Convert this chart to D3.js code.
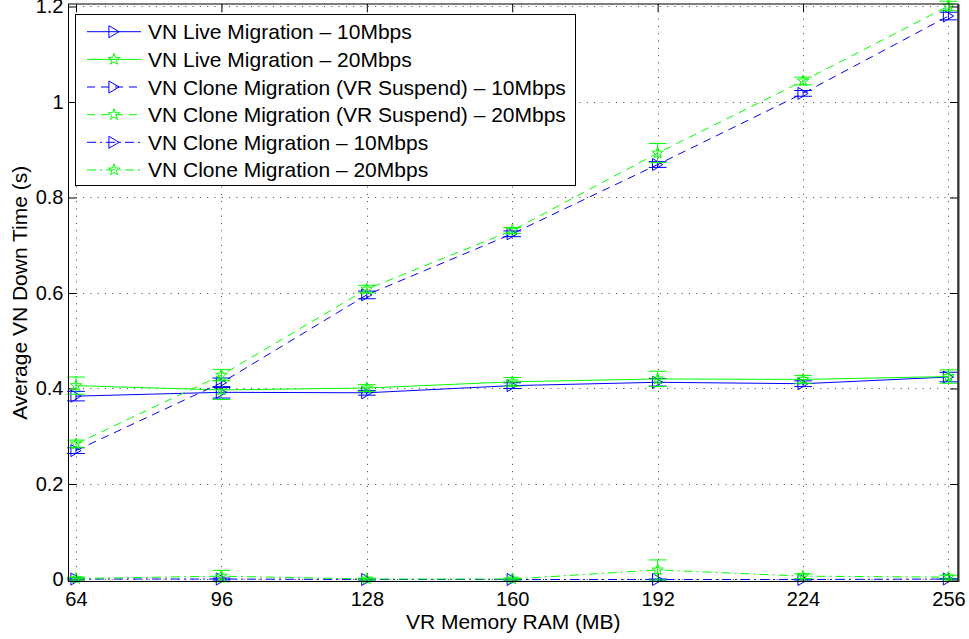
<!DOCTYPE html>
<html>
<head>
<meta charset="utf-8">
<script src="https://cdn.jsdelivr.net/npm/d3@7"></script>
<style>
  html, body { margin: 0; padding: 0; background: #fff; }
  svg { display: block; font-family: "Liberation Sans", Arial, Helvetica, sans-serif; }
</style>
</head>
<body>
<svg id="chart" width="969" height="639"></svg>
<script>
// Memory sizes tested (MB)
const ramSizes = [64, 96, 128, 160, 192, 224, 256];
const xTicks = [64, 96, 128, 160, 192, 224, 256];
const yTicks = [0, 0.2, 0.4, 0.6, 0.8, 1, 1.2];
const yTickLabels = ["0", "0.2", "0.4", "0.6", "0.8", "1", "1.2"];

// Mean down time (s) and error half-widths per scenario
const liveMig10 = [0.384, 0.392, 0.391, 0.406, 0.413, 0.410, 0.424];
const liveMig10Err = [0.010, 0.012, 0.005, 0.006, 0.008, 0.006, 0.010];
const liveMig20 = [0.406, 0.397, 0.401, 0.414, 0.420, 0.419, 0.425];
const liveMig20Err = [0.018, 0.020, 0.007, 0.009, 0.016, 0.008, 0.014];
const cloneSusp10 = [0.270, 0.412, 0.596, 0.724, 0.869, 1.018, 1.180];
const cloneSusp10Err = [0.006, 0.010, 0.008, 0.006, 0.006, 0.006, 0.008];
const cloneSusp20 = [0.284, 0.428, 0.608, 0.731, 0.893, 1.044, 1.201];
const cloneSusp20Err = [0.008, 0.012, 0.008, 0.006, 0.020, 0.008, 0.010];
const clone10 = [0.001, 0.001, 0.000, 0.000, 0.000, 0.000, 0.001];
const clone10Err = [0.002, 0.002, 0.001, 0.001, 0.001, 0.001, 0.001];
const clone20 = [0.002, 0.007, 0.001, 0.001, 0.020, 0.007, 0.005];
const clone20Err = [0.003, 0.012, 0.002, 0.002, 0.021, 0.005, 0.004];

const seriesNames = [
  "VN Live Migration \u2013 10Mbps",
  "VN Live Migration \u2013 20Mbps",
  "VN Clone Migration (VR Suspend) \u2013 10Mbps",
  "VN Clone Migration (VR Suspend) \u2013 20Mbps",
  "VN Clone Migration \u2013 10Mbps",
  "VN Clone Migration \u2013 20Mbps"
];

const BLUE = "#0000ff", GREEN = "#00ff00";
const SOLID = null, DASHED = "8,6", DASHDOT = "9,4,2,4";

const series = [
  { name: seriesNames[0], values: liveMig10, err: liveMig10Err, color: BLUE, dash: SOLID, marker: "tri" },
  { name: seriesNames[1], values: liveMig20, err: liveMig20Err, color: GREEN, dash: SOLID, marker: "star" },
  { name: seriesNames[2], values: cloneSusp10, err: cloneSusp10Err, color: BLUE, dash: DASHED, marker: "tri" },
  { name: seriesNames[3], values: cloneSusp20, err: cloneSusp20Err, color: GREEN, dash: DASHED, marker: "star" },
  { name: seriesNames[4], values: clone10, err: clone10Err, color: BLUE, dash: DASHDOT, marker: "tri" },
  { name: seriesNames[5], values: clone20, err: clone20Err, color: GREEN, dash: DASHDOT, marker: "star" }
];

const svg = d3.select("#chart");
const box = { left: 68.5, right: 958, top: 4, bottom: 581.5 };

const x = d3.scaleLinear().domain([62.35, 258.1]).range([box.left, box.right]);
const y = d3.scaleLinear().domain([-0.0042, 1.2052]).range([box.bottom, box.top]);

const tickFont = 20;
const labelFont = 21;
const FONT = "'Liberation Sans', Arial, Helvetica, sans-serif";

// Grid
const grid = svg.append("g").attr("fill", "none").attr("stroke", "#000")
  .attr("stroke-width", 1).attr("stroke-dasharray", "1,6.3").attr("opacity", 0.75);
xTicks.forEach(t => {
  grid.append("line").attr("x1", Math.round(x(t)) + 0.5).attr("x2", Math.round(x(t)) + 0.5)
    .attr("y1", box.top).attr("y2", box.bottom);
});
yTicks.forEach(t => {
  grid.append("line").attr("y1", Math.round(y(t)) + 0.5).attr("y2", Math.round(y(t)) + 0.5)
    .attr("x1", box.left).attr("x2", box.right);
});

// Axes via d3 axis generators (ticks drawn inward)
const tickLen = 8;
const xAxisB = d3.axisBottom(x).tickValues(xTicks).tickFormat(d3.format("d"))
  .tickSizeInner(-tickLen).tickSizeOuter(0).tickPadding(10);
const xAxisT = d3.axisTop(x).tickValues(xTicks).tickFormat("").tickSizeInner(-tickLen).tickSizeOuter(0);
const yAxisL = d3.axisLeft(y).tickValues(yTicks).tickFormat((d, i) => yTickLabels[i])
  .tickSizeInner(-tickLen).tickSizeOuter(0).tickPadding(5);
const yAxisR = d3.axisRight(y).tickValues(yTicks).tickFormat("").tickSizeInner(-tickLen).tickSizeOuter(0);

function styleAxis(g) {
  g.select(".domain").remove();
  g.selectAll(".tick line").attr("stroke", "#000").attr("stroke-width", 1);
  g.selectAll(".tick text").attr("fill", "#000").attr("font-size", tickFont)
    .attr("font-family", FONT);
}
svg.append("g").attr("transform", `translate(0,${box.bottom})`).call(xAxisB).call(styleAxis);
svg.append("g").attr("transform", `translate(0,${box.top})`).call(xAxisT).call(styleAxis);
svg.append("g").attr("transform", `translate(${box.left},0)`).call(yAxisL).call(styleAxis);
svg.append("g").attr("transform", `translate(${box.right},0)`).call(yAxisR).call(styleAxis);

// Marker shapes
function triPath(s) {
  const w = s * 0.85, h = s;
  return `M${-w / 2},${-h / 2}L${w / 2},0L${-w / 2},${h / 2}Z`;
}
function starPath(s) {
  const R = s / 2, r = R * 0.4;
  let p = "";
  for (let k = 0; k < 10; k++) {
    const a = -Math.PI / 2 + k * Math.PI / 5;
    const rad = k % 2 === 0 ? R : r;
    p += (k === 0 ? "M" : "L") + (rad * Math.cos(a)).toFixed(2) + "," + (rad * Math.sin(a)).toFixed(2);
  }
  return p + "Z";
}
function markerPath(m) { return m === "tri" ? triPath(12) : starPath(12); }

// Plot series
const plot = svg.append("g");
const line = d3.line().x((d, i) => x(ramSizes[i])).y(d => y(d));
const capHalf = x(64 + 1.96) - x(64);

series.forEach(s => {
  const g = plot.append("g");
  g.append("path").datum(s.values).attr("d", line)
    .attr("fill", "none").attr("stroke", s.color).attr("stroke-width", 1)
    .attr("stroke-dasharray", s.dash);
  const eb = g.append("g").attr("stroke", s.color).attr("stroke-width", 1).attr("fill", "none");
  s.values.forEach((v, i) => {
    const cx = x(ramSizes[i]);
    const y1 = y(v - s.err[i]), y2 = y(v + s.err[i]);
    eb.append("line").attr("x1", cx).attr("x2", cx).attr("y1", y1).attr("y2", y2);
    eb.append("line").attr("x1", cx - capHalf).attr("x2", cx + capHalf).attr("y1", y1).attr("y2", y1);
    eb.append("line").attr("x1", cx - capHalf).attr("x2", cx + capHalf).attr("y1", y2).attr("y2", y2);
  });
  g.selectAll(".mk").data(s.values).enter().append("path")
    .attr("transform", (d, i) => `translate(${x(ramSizes[i])},${y(d)})`)
    .attr("d", markerPath(s.marker))
    .attr("fill", "none").attr("stroke", s.color).attr("stroke-width", 1);
});

// Axis box
svg.append("rect").attr("x", box.left).attr("y", box.top)
  .attr("width", box.right - box.left).attr("height", box.bottom - box.top)
  .attr("fill", "none").attr("stroke", "#000").attr("stroke-width", 1);
svg.append("line").attr("x1", box.right + 0.5).attr("x2", box.right + 0.5)
  .attr("y1", box.top).attr("y2", box.bottom + 0.5)
  .attr("stroke", "#333").attr("stroke-width", 2);

// Axis labels
svg.append("text").attr("x", (box.left + box.right) / 2).attr("y", 629)
  .attr("text-anchor", "middle").attr("font-size", labelFont).attr("fill", "#000")
  .text("VR Memory RAM (MB)");
svg.append("text").attr("transform", `translate(27,${(box.top + box.bottom) / 2}) rotate(-90)`)
  .attr("text-anchor", "middle").attr("font-size", labelFont).attr("fill", "#000")
  .text("Average VN Down Time (s)");

// Legend
const leg = svg.append("g");
const legBox = { x: 75.5, y: 14.5, w: 500, h: 171 };
leg.append("rect").attr("x", legBox.x).attr("y", legBox.y).attr("width", legBox.w).attr("height", legBox.h)
  .attr("fill", "#fff").attr("stroke", "#000").attr("stroke-width", 1);
const rowY0 = 31.7, rowStep = 27.65;
series.forEach((s, i) => {
  const ry = rowY0 + i * rowStep;
  leg.append("line").attr("x1", 87).attr("x2", 141).attr("y1", ry).attr("y2", ry)
    .attr("stroke", s.color).attr("stroke-width", 1).attr("stroke-dasharray", s.dash);
  leg.append("path").attr("transform", `translate(114,${ry})`).attr("d", markerPath(s.marker))
    .attr("fill", "none").attr("stroke", s.color).attr("stroke-width", 1);
  leg.append("text").attr("x", 148).attr("y", ry + 7.5).attr("font-size", labelFont).attr("fill", "#000")
    .text(s.name);
});
</script>
</body>
</html>
